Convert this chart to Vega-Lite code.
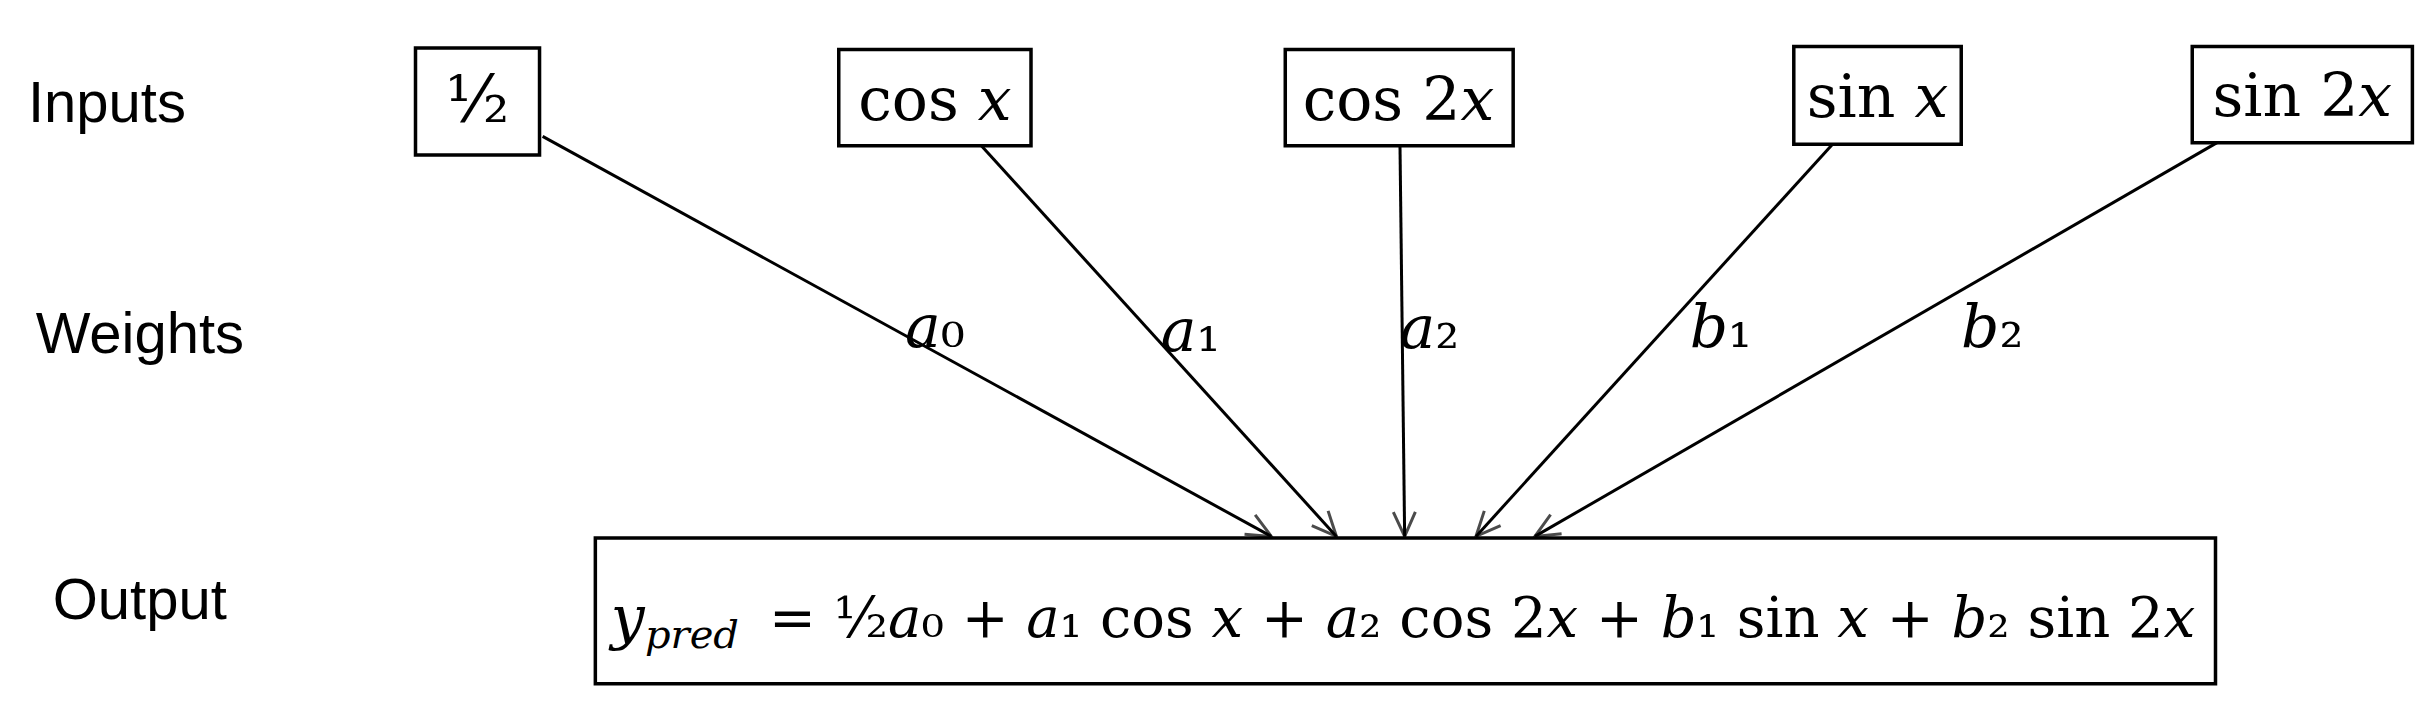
{
  "$schema": "https://vega.github.io/schema/vega-lite/v6.json",
  "width": 2431,
  "height": 724,
  "autosize": {"type": "fit", "contains": "padding"},
  "padding": 0,
  "config": {"view": {"stroke": null}},
  "encoding": {
    "x": {"type": "quantitative", "scale": {"domain": [0, 1568], "nice": false, "zero": false}, "axis": null},
    "y": {"type": "quantitative", "scale": {"domain": [0, 467], "nice": false, "zero": false, "reverse": true}, "axis": null}
  },
  "layer": [
    {
      "data": {"values": [
        {"x1": 350, "y1": 88, "x2": 820, "y2": 346},
        {"x1": 633, "y1": 94, "x2": 862, "y2": 346},
        {"x1": 903, "y1": 94, "x2": 906, "y2": 346},
        {"x1": 1182, "y1": 93, "x2": 952, "y2": 346},
        {"x1": 1430, "y1": 92, "x2": 990, "y2": 346}
      ]},
      "mark": {"type": "rule", "stroke": "black", "strokeWidth": 3},
      "encoding": {"x": {"field": "x1"}, "y": {"field": "y1"}, "x2": {"field": "x2"}, "y2": {"field": "y2"}}
    },
    {
      "data": {"values": [
        {"x": 820, "y": 346, "angle": -61.2},
        {"x": 862, "y": 346, "angle": -42.3},
        {"x": 906, "y": 346, "angle": -0.7},
        {"x": 952, "y": 346, "angle": 42.3},
        {"x": 990, "y": 346, "angle": 60}
      ]},
      "mark": {"type": "point", "shape": "M-0.45,-1 L0,0 L0.45,-1", "filled": false, "stroke": "black", "strokeWidth": 3, "size": 2400},
      "encoding": {"x": {"field": "x"}, "y": {"field": "y"}, "angle": {"field": "angle", "type": "quantitative", "scale": null}}
    },
    {
      "data": {"values": [
        {"x1": 268, "y1": 31, "x2": 348, "y2": 100},
        {"x1": 541, "y1": 32, "x2": 665, "y2": 94},
        {"x1": 829, "y1": 32, "x2": 976, "y2": 94},
        {"x1": 1157, "y1": 30, "x2": 1265, "y2": 93},
        {"x1": 1414, "y1": 30, "x2": 1556, "y2": 92},
        {"x1": 384, "y1": 347, "x2": 1429, "y2": 441}
      ]},
      "mark": {"type": "rect", "fill": "white", "stroke": "black", "strokeWidth": 3.5},
      "encoding": {"x": {"field": "x1"}, "y": {"field": "y1"}, "x2": {"field": "x2"}, "y2": {"field": "y2"}}
    },
    {
      "data": {"values": [
        {"x": 308, "y": 66, "t": "¹⁄₂"}
      ]},
      "mark": {"type": "text", "font": "DejaVu Serif", "fontSize": 66, "baseline": "middle", "align": "center"},
      "encoding": {"x": {"field": "x"}, "y": {"field": "y"}, "text": {"field": "t"}}
    },
    {
      "data": {"values": [
        {"x": 603, "y": 66, "t": "cos 𝑥"},
        {"x": 902, "y": 66, "t": "cos 2𝑥"},
        {"x": 1211, "y": 64, "t": "sin 𝑥"},
        {"x": 1485, "y": 63, "t": "sin 2𝑥"}
      ]},
      "mark": {"type": "text", "font": "DejaVu Serif", "fontSize": 60, "baseline": "middle", "align": "center"},
      "encoding": {"x": {"field": "x"}, "y": {"field": "y"}, "text": {"field": "t"}}
    },
    {
      "data": {"values": [
        {"x": 603, "y": 212, "t": "𝑎₀"},
        {"x": 768, "y": 215, "t": "𝑎₁"},
        {"x": 922, "y": 213, "t": "𝑎₂"},
        {"x": 1110, "y": 212, "t": "𝑏₁"},
        {"x": 1285, "y": 212, "t": "𝑏₂"}
      ]},
      "mark": {"type": "text", "font": "DejaVu Serif", "fontSize": 60, "baseline": "middle", "align": "center"},
      "encoding": {"x": {"field": "x"}, "y": {"field": "y"}, "text": {"field": "t"}}
    },
    {
      "data": {"values": [
        {"x": 18, "y": 68, "t": "Inputs"},
        {"x": 23, "y": 217, "t": "Weights"},
        {"x": 34, "y": 388, "t": "Output"}
      ]},
      "mark": {"type": "text", "font": "Liberation Sans", "fontSize": 58, "baseline": "middle", "align": "left"},
      "encoding": {"x": {"field": "x"}, "y": {"field": "y"}, "text": {"field": "t"}}
    },
    {
      "data": {"values": [{"x": 394, "y": 400, "t": "𝑦"}]},
      "mark": {"type": "text", "font": "DejaVu Serif", "fontSize": 60, "baseline": "middle", "align": "left"},
      "encoding": {"x": {"field": "x"}, "y": {"field": "y"}, "text": {"field": "t"}}
    },
    {
      "data": {"values": [{"x": 416, "y": 410, "t": "pred"}]},
      "mark": {"type": "text", "font": "DejaVu Serif", "fontStyle": "italic", "fontSize": 40, "baseline": "middle", "align": "left"},
      "encoding": {"x": {"field": "x"}, "y": {"field": "y"}, "text": {"field": "t"}}
    },
    {
      "data": {"values": [{"x": 496, "y": 400, "t": "=  ½𝑎₀ + 𝑎₁ cos 𝑥  +  𝑎₂ cos 2𝑥 + 𝑏₁ sin 𝑥 + 𝑏₂ sin 2𝑥"}]},
      "mark": {"type": "text", "font": "DejaVu Serif", "fontSize": 56, "baseline": "middle", "align": "left"},
      "encoding": {"x": {"field": "x"}, "y": {"field": "y"}, "text": {"field": "t"}}
    }
  ]
}
